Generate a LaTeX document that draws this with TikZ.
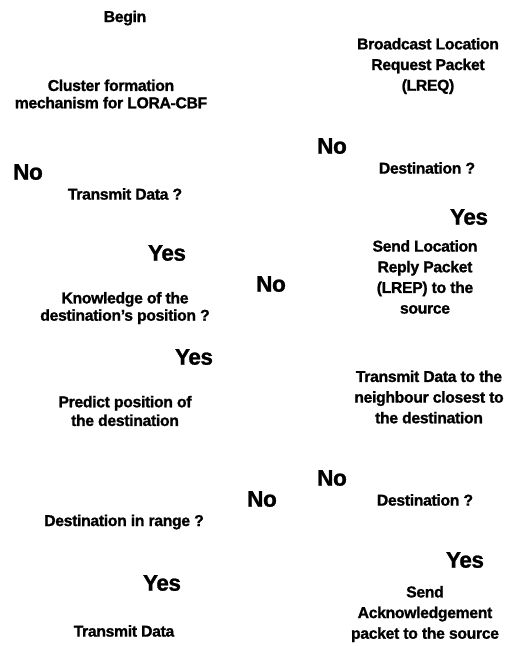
\documentclass[tikz,border=0pt]{standalone}
\usepackage{fontspec}
\setmainfont{Liberation Sans}[BoldFeatures={FakeBold=1.2, LetterSpace=-2}]
\begin{document}
\begin{tikzpicture}[x=0.75pt,y=-0.75pt,
    step text/.style={align=center, inner sep=0pt, font=\bfseries\fontsize{11.8}{13}\selectfont},
    wide text/.style={step text, font=\bfseries\fontsize{11.8}{15.5}\selectfont},
    answer/.style={inner sep=0pt, font=\bfseries\fontsize{16.9}{18}\selectfont}]
  \useasboundingbox (0,0) rectangle (510,646);
  % left column
  \node[step text] (begin) at (125,18) {Begin};
  \node[step text] (cluster) at (111,94) {Cluster formation\\mechanism for LORA-CBF};
  \node[answer] (noa) at (28,172) {No};
  \node[step text] (transmitq) at (125,194) {Transmit Data ?};
  \node[answer] (yesa) at (167,253) {Yes};
  \node[step text] (knowledge) at (125,308) {Knowledge of the\\destination’s position ?};
  \node[answer] (yesb) at (194,357) {Yes};
  \node[step text, font=\bfseries\fontsize{11.8}{14}\selectfont] (predict) at (125,411) {Predict position of\\the destination};
  \node[step text] (inrange) at (124,522) {Destination in range ?};
  \node[answer] (yesc) at (162,583) {Yes};
  \node[step text] (transmit) at (124,631) {Transmit Data};
  % middle
  \node[answer] (nob) at (271,284) {No};
  \node[answer] (noc) at (262,499) {No};
  % right column
  \node[wide text] (broadcast) at (428,66) {Broadcast Location\\Request Packet\\(LREQ)};
  \node[answer] (nod) at (332,146) {No};
  \node[step text] (destqa) at (427,168) {Destination ?};
  \node[answer] (yesd) at (469,217) {Yes};
  \node[wide text] (reply) at (425,277) {Send Location\\Reply Packet\\(LREP) to the\\source};
  \node[wide text] (neighbour) at (429,397) {Transmit Data to the\\neighbour closest to\\the destination};
  \node[answer] (noe) at (332,478) {No};
  \node[step text] (destqb) at (425,500) {Destination ?};
  \node[answer] (yese) at (465,560) {Yes};
  \node[wide text] (ack) at (425,614) {Send\\Acknowledgement\\packet to the source};
\end{tikzpicture}
\end{document}
